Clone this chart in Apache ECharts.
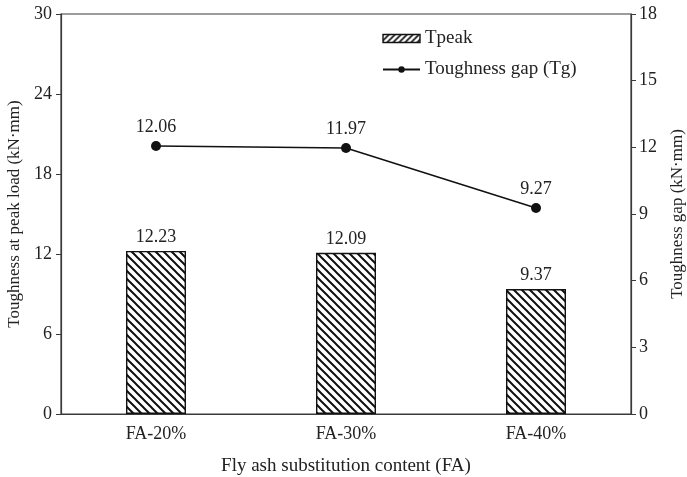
<!DOCTYPE html>
<html>
<head>
<meta charset="utf-8">
<script src="https://cdn.jsdelivr.net/npm/echarts@6/dist/echarts.min.js"></script>
<style>
  html, body { margin: 0; padding: 0; background: #fff; }
  #chart { width: 687px; height: 477px; }
</style>
</head>
<body>
<div id="chart"></div>
<script>
// Fly ash substitution groups
const categories = ['FA-20%', 'FA-30%', 'FA-40%'];
// Toughness at peak load (left axis, kN·mm)
const tpeak = [12.23, 12.09, 9.37];
// Toughness gap (right axis, kN·mm)
const tgap = [12.06, 11.97, 9.27];
// Axis tick settings
const leftTicks = { min: 0, max: 30, interval: 6 };
const rightTicks = { min: 0, max: 18, interval: 3 };

// Diagonal hatch fill; rising = true draws "/" stripes, otherwise "\"
function hatchPattern(rising, size, width) {
  const s = size;
  const c = document.createElement('canvas');
  c.width = s; c.height = s;
  const g = c.getContext('2d');
  g.fillStyle = '#ffffff';
  g.fillRect(0, 0, s, s);
  g.strokeStyle = '#111111';
  g.lineWidth = width;
  g.beginPath();
  if (rising) {
    g.moveTo(-1, s + 1); g.lineTo(s + 1, -1);
    g.moveTo(-1, 1); g.lineTo(1, -1);
    g.moveTo(s - 1, s + 1); g.lineTo(s + 1, s - 1);
  } else {
    g.moveTo(-1, -1); g.lineTo(s + 1, s + 1);
    g.moveTo(s - 1, -1); g.lineTo(s + 1, 1);
    g.moveTo(-1, s - 1); g.lineTo(1, s + 1);
  }
  g.stroke();
  return c;
}

const font = 'Liberation Serif, Times New Roman, serif';
const axisColor = '#3a3a3a';
const textColor = '#222222';

const chart = echarts.init(document.getElementById('chart'));
chart.setOption({
  backgroundColor: '#ffffff',
  animation: false,
  textStyle: { fontFamily: font },
  grid: {
    left: 61, right: 56, top: 14, bottom: 63,
    containLabel: false,
    outerBoundsMode: 'none',
    show: true, borderColor: axisColor, borderWidth: 1.2, backgroundColor: 'transparent'
  },
  legend: {
    left: 377, top: 24,
    orient: 'vertical',
    itemGap: 12,
    itemWidth: 37, itemHeight: 8,
    textStyle: { fontFamily: font, fontSize: 19, color: textColor },
    data: [
      {
        name: 'Tpeak', icon: 'rect',
        itemStyle: {
          color: { image: hatchPattern(true, 6, 1.6), repeat: 'repeat' },
          borderColor: '#111111', borderWidth: 1.4
        }
      },
      { name: 'Toughness gap (Tg)' }
    ]
  },
  xAxis: {
    type: 'category',
    data: categories,
    boundaryGap: true,
    axisLine: { lineStyle: { color: axisColor, width: 1.2 } },
    axisTick: { show: false },
    axisLabel: { fontFamily: font, fontSize: 18, color: textColor, margin: 11 },
    name: 'Fly ash substitution content (FA)',
    nameLocation: 'middle',
    nameGap: 43,
    nameTextStyle: { fontFamily: font, fontSize: 19, color: textColor }
  },
  yAxis: [
    {
      type: 'value',
      min: leftTicks.min, max: leftTicks.max, interval: leftTicks.interval,
      splitLine: { show: false },
      axisLine: { show: true, lineStyle: { color: axisColor, width: 1.2 } },
      axisTick: { show: true, length: 5, lineStyle: { color: axisColor } },
      axisLabel: { fontFamily: font, fontSize: 18, color: textColor, margin: 9 },
      name: 'Toughness at peak load (kN·mm)',
      nameLocation: 'middle',
      nameGap: 37,
      nameRotate: 90,
      nameTextStyle: { fontFamily: font, fontSize: 17, color: textColor }
    },
    {
      type: 'value',
      position: 'right',
      min: rightTicks.min, max: rightTicks.max, interval: rightTicks.interval,
      splitLine: { show: false },
      axisLine: { show: true, lineStyle: { color: axisColor, width: 1.2 } },
      axisTick: { show: true, length: 5, lineStyle: { color: axisColor } },
      axisLabel: { fontFamily: font, fontSize: 18, color: textColor, margin: 8 },
      name: 'Toughness gap (kN·mm)',
      nameLocation: 'middle',
      nameGap: 38,
      nameRotate: 90,
      nameTextStyle: { fontFamily: font, fontSize: 17, color: textColor }
    }
  ],
  series: [
    {
      name: 'Tpeak',
      type: 'bar',
      yAxisIndex: 0,
      data: tpeak,
      barWidth: 60,
      itemStyle: {
        color: { image: hatchPattern(false, 8, 2), repeat: 'repeat' },
        borderColor: '#111111',
        borderWidth: 1.4
      },
      label: {
        show: true, position: 'top', distance: 5,
        fontFamily: font, fontSize: 18, color: textColor,
        formatter: p => p.value.toFixed(2)
      }
    },
    {
      name: 'Toughness gap (Tg)',
      type: 'line',
      yAxisIndex: 1,
      data: tgap,
      symbol: 'circle',
      symbolSize: 10,
      lineStyle: { color: '#111111', width: 1.5 },
      itemStyle: { color: '#111111' },
      label: {
        show: true, position: 'top', distance: 5,
        fontFamily: font, fontSize: 18, color: textColor,
        formatter: p => p.value.toFixed(2)
      }
    }
  ]
});
</script>
</body>
</html>
